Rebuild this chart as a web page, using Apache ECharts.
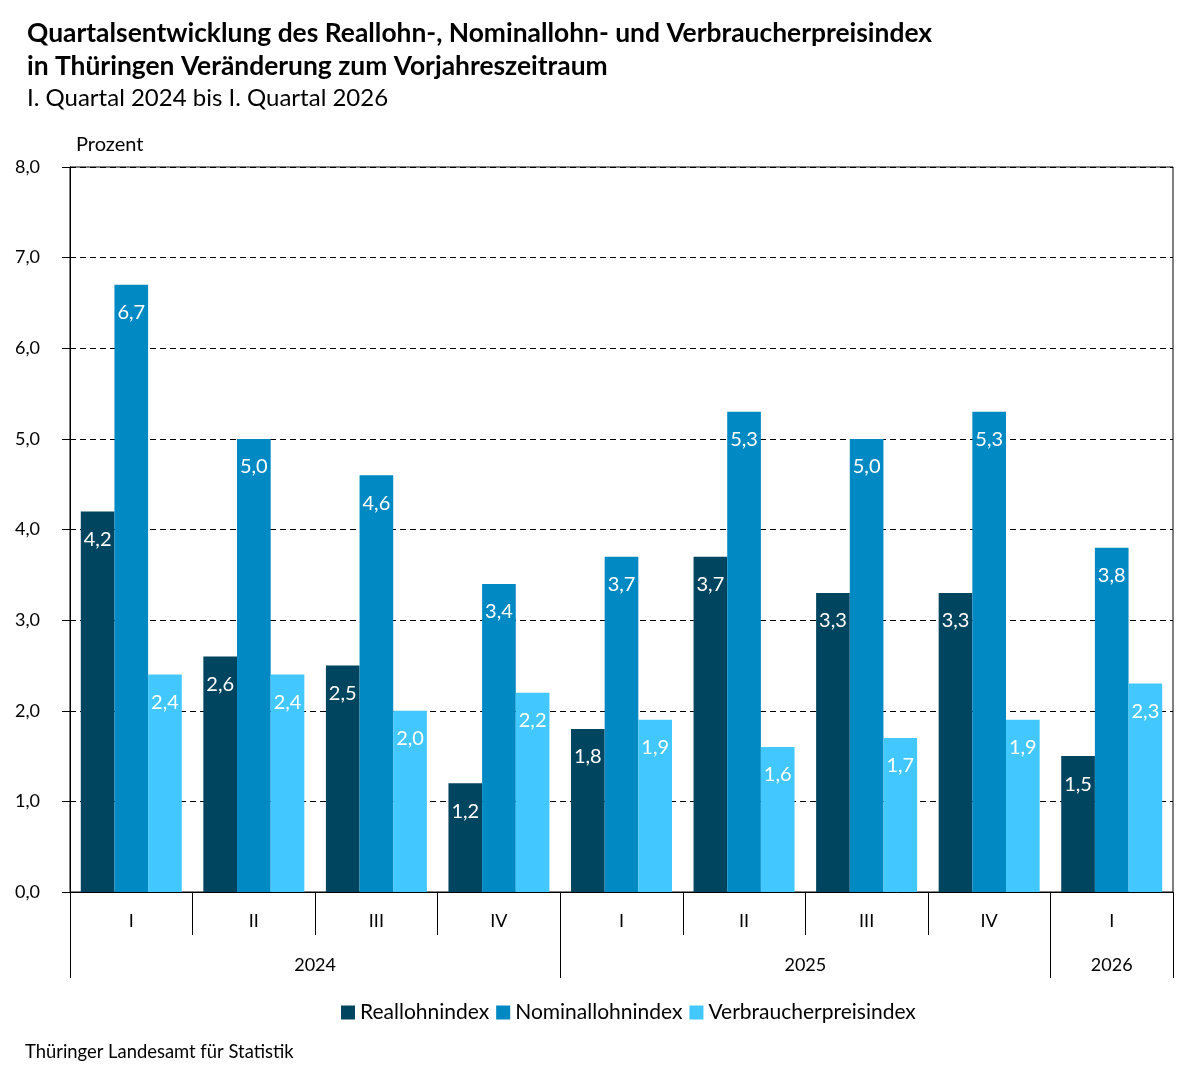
<!DOCTYPE html>
<html>
<head>
<meta charset="utf-8">
<script src="https://cdn.jsdelivr.net/npm/echarts@6/dist/echarts.min.js"></script>
<style>
  html, body { margin: 0; padding: 0; background: #fff; }
  #chart { width: 1200px; height: 1076px; }
</style>
</head>
<body>
<div id="chart"></div>
<script>
var quarters = ["I", "II", "III", "IV", "I", "II", "III", "IV", "I"];
var years = ["2024", "2025", "2026"];
var yearSpans = [4, 4, 1];
var reallohn = [4.2, 2.6, 2.5, 1.2, 1.8, 3.7, 3.3, 3.3, 1.5];
var nominallohn = [6.7, 5.0, 4.6, 3.4, 3.7, 5.3, 5.0, 5.3, 3.8];
var verbraucherpreis = [2.4, 2.4, 2.0, 2.2, 1.9, 1.6, 1.7, 1.9, 2.3];

var fontFam = "Lato, 'Noto Sans', sans-serif";

// Jahresbeschriftung: Trennstriche an den Grenzen, Text in der Mitte
var yearTicks = [0];
var yearLabelPos = [];
var yearByPos = {};
var acc = 0;
for (var i = 0; i < years.length; i++) {
  yearLabelPos.push(acc + yearSpans[i] / 2);
  yearByPos[acc + yearSpans[i] / 2] = years[i];
  acc += yearSpans[i];
  yearTicks.push(acc);
}

function komma(v) {
  return v.toFixed(1).replace(".", ",");
}

var myChart = echarts.init(document.getElementById("chart"));

function serie(name, data, color) {
  return {
    name: name,
    type: "bar",
    data: data,
    barGap: 0,
    barCategoryGap: "17.6%",
    itemStyle: { color: color },
    label: {
      show: true,
      position: "insideTop",
      distance: 18,
      color: "#fff",
      fontSize: 20,
      fontFamily: fontFam,
      formatter: function (p) { return komma(p.value); }
    }
  };
}

var option = {
  animation: false,
  textStyle: { fontFamily: fontFam, color: "#000" },
  title: [
    {
      text: "Quartalsentwicklung des Reallohn-, Nominallohn- und Verbraucherpreisindex\nin Thüringen Veränderung zum Vorjahreszeitraum",
      left: 22,
      top: 12,
      textStyle: { fontSize: 26.4, fontWeight: "bold", lineHeight: 33, fontFamily: fontFam, color: "#000" }
    },
    {
      text: "I. Quartal 2024 bis I. Quartal 2026",
      left: 22,
      top: 81,
      textStyle: { fontSize: 24, fontWeight: "normal", fontFamily: fontFam, color: "#000" }
    },
    {
      text: "Thüringer Landesamt für Statistik",
      left: 20,
      top: 1038,
      textStyle: { fontSize: 18.4, fontWeight: "normal", fontFamily: fontFam, color: "#000" }
    }
  ],
  legend: {
    bottom: 48,
    left: 336,
    itemWidth: 14,
    itemHeight: 14,
    itemGap: 7,
    icon: "rect",
    textStyle: { fontSize: 21, fontFamily: fontFam, color: "#000" },
    data: ["Reallohnindex", "Nominallohnindex", "Verbraucherpreisindex"]
  },
  grid: {
    left: 70,
    right: 27,
    top: 167,
    bottom: 184,
    show: true,
    borderColor: "#000",
    borderWidth: 1
  },
  xAxis: [
    {
      type: "category",
      data: quarters,
      position: "bottom",
      axisLine: { lineStyle: { color: "#000", width: 1 } },
      axisTick: { show: true, interval: 0, length: 43, lineStyle: { color: "#000" } },
      axisLabel: { interval: 0, margin: 20, fontSize: 18, color: "#000", fontFamily: fontFam }
    },
    {
      type: "value",
      position: "bottom",
      min: 0,
      max: quarters.length,
      axisLine: { show: false },
      splitLine: { show: false },
      axisTick: { show: true, length: 86, customValues: yearTicks, lineStyle: { color: "#000" } },
      axisLabel: {
        margin: 64,
        fontSize: 18,
        color: "#000",
        fontFamily: fontFam,
        customValues: yearLabelPos,
        formatter: function (v) { return yearByPos[v] || ""; }
      }
    }
  ],
  yAxis: {
    type: "value",
    min: 0,
    max: 8,
    interval: 1,
    name: "Prozent",
    nameLocation: "end",
    nameGap: 12,
    nameTextStyle: { align: "left", fontSize: 20, color: "#000", fontFamily: fontFam, padding: [0, 0, 0, 6] },
    axisLine: { show: true, lineStyle: { color: "#000" } },
    axisTick: { show: true, length: 8, lineStyle: { color: "#000" } },
    axisLabel: {
      margin: 30,
      fontSize: 18,
      color: "#000",
      fontFamily: fontFam,
      formatter: function (v) { return komma(v); }
    },
    splitLine: { show: true, lineStyle: { color: "#000", type: [6, 4], width: 1 } }
  },
  series: [
    serie("Reallohnindex", reallohn, "#00455f"),
    serie("Nominallohnindex", nominallohn, "#0089c2"),
    serie("Verbraucherpreisindex", verbraucherpreis, "#42c8ff")
  ]
};

myChart.setOption(option);
</script>
</body>
</html>
